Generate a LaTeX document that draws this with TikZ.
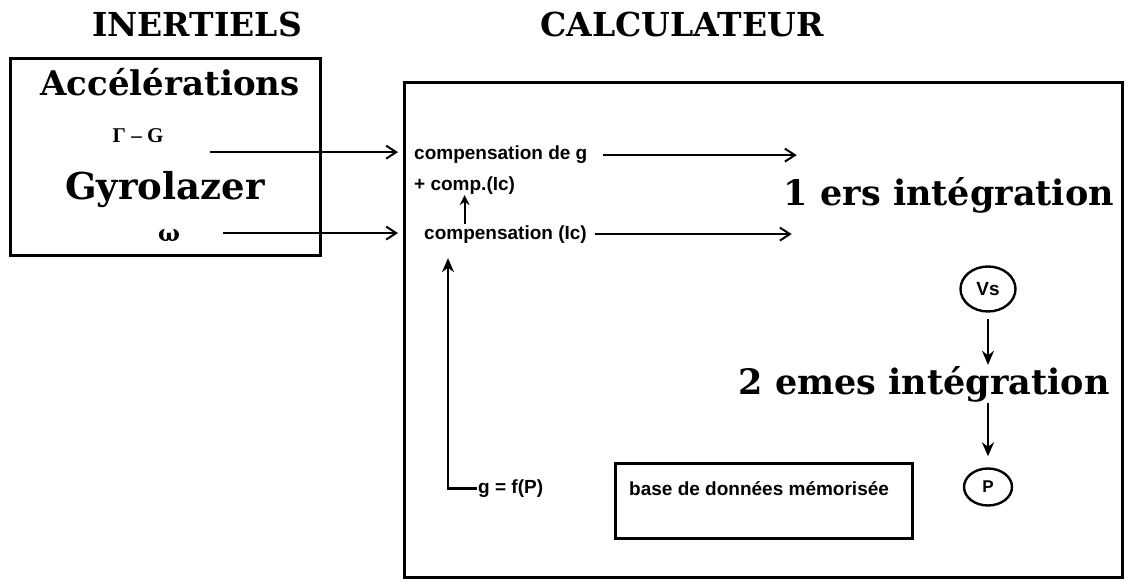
\documentclass[tikz,border=0pt]{standalone}
\usepackage{fontspec}
\setmainfont{DejaVu Serif}
\setsansfont{Liberation Sans}
\newfontfamily\serifgrec{Liberation Serif}
\usetikzlibrary{arrows.meta,calc,shapes.geometric}
\tikzset{
  titre/.style={font=\fontsize{33}{36}\selectfont\bfseries, inner sep=0pt, anchor=base},
  gros/.style={font=\fontsize{35}{40}\selectfont\bfseries, inner sep=1pt, anchor=base},
  petit/.style={font=\sffamily\fontsize{19}{22}\selectfont\bfseries, inner sep=1pt, anchor=base west},
  cadre/.style={rectangle, draw=black, line width=3pt, inner sep=0pt},
  bulle/.style={ellipse, draw=black, line width=2.4pt, inner sep=0pt,
                font=\sffamily\fontsize{19}{21}\selectfont\bfseries},
  ar/.style={-{Straight Barb[length=10pt,width=13pt,line width=2pt]}, line width=2.2pt},
  arf/.style={-{Stealth[length=14pt,width=12pt]}, line width=2.8pt},
  pfl/.style={-{Stealth[length=10pt,width=10pt]}, line width=2pt},
}

\begin{document}
\begin{tikzpicture}[x=1pt,y=-1pt]
\useasboundingbox (0,0) rectangle (1128,583);

% ============================ titres ==============================
\node[titre] (tInert) at (197,37) {INERTIELS};
\node[titre] (tCalc)  at (682,37) {CALCULATEUR};

% ============================ inertiels ===========================
\node[cadre, minimum width=310pt, minimum height=197pt] (inert) at (165,157) {};
\node[gros, font=\fontsize{34}{38}\selectfont\bfseries] (acc) at (170,96) {Accélérations};
\node[anchor=base, inner sep=1pt, font=\serifgrec\fontsize{21}{24}\selectfont\bfseries]
  (gam) at (138,143) {Γ – G};
\node[gros, font=\fontsize{37}{40}\selectfont\bfseries] (gyro) at (165,200) {Gyrolazer};
\node[anchor=base, inner sep=1pt, font=\fontsize{23}{26}\selectfont\bfseries] (om) at (169,241) {ω};

% ============================ calculateur =========================
\node[cadre, minimum width=718pt, minimum height=495pt] (calc) at (763,330) {};
\node[petit] (comp1) at (413,160) {compensation de g};
\node[petit] (comp2) at (413,190) {+ comp.(Ic)};
\node[petit] (comp3) at (423,239) {compensation (Ic)};
\node[gros] (int1) at (949,205) {1 ers intégration};
\node[bulle, minimum width=55pt, minimum height=45pt] (vs) at (988,289) {Vs};
\node[gros] (int2) at (924,394) {2 emes intégration};
\node[bulle, minimum width=48pt, minimum height=37pt,
      font=\sffamily\fontsize{17}{19}\selectfont\bfseries] (pos) at (988,487) {P};
\node[cadre, minimum width=297pt, minimum height=75pt] (bdd) at (763.5,500.5) {};
\node[petit] (bddt) at (628,495) {base de données mémorisée};
\node[petit] (gfp) at (477,493) {g = f(P)};

% ============================ liaisons ============================
\coordinate (depA) at ($(gam.east)+(45,16)$);
\coordinate (depB) at ($(om.east)+(42,-2)$);
\draw[ar, shorten >=15pt] (depA) -- (depA -| comp1.west);
\draw[ar, shorten >=25pt] (depB) -- (depB -| comp3.west);
\draw[ar, shorten <=14pt, shorten >=-14pt] (comp1.east) -- (comp1.east -| int1.west);
\draw[ar, shorten <=7pt, shorten >=-9pt] (comp3.east) -- (comp3.east -| int1.west);
\draw[pfl] (comp3.north -| comp2.south) -- (comp2.south);
\draw[arf, shorten <=6pt] (vs.south) -- (vs.south |- int2.north);
\draw[arf, shorten >=11pt] (int2.south -| pos.north) -- (pos.north);
\coordinate (fbtop) at ($(comp3.south west)+(25,14)$);
\draw[arf] (gfp.west) -| (fbtop);

\end{tikzpicture}
\end{document}
